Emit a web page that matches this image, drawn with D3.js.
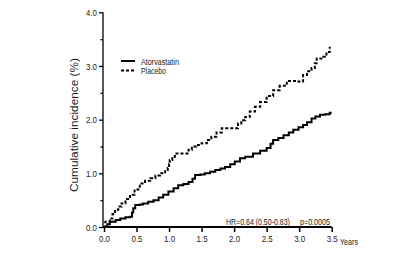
<!DOCTYPE html>
<html><head><meta charset="utf-8">
<script src="https://cdn.jsdelivr.net/npm/d3@7"></script>
<style>body{margin:0;background:#fff}svg{display:block}text{font-family:"Liberation Sans",Arial,sans-serif}</style>
</head><body><svg id="c" width="400" height="258"></svg>
<script>
const xTicks = [0,0.5,1.0,1.5,2.0,2.5,3.0,3.5];
const yTicks = [0,1.0,2.0,3.0,4.0];
const yMinor = [0.5,1.5,2.5,3.5];
const atorT = [0,0.05,0.09,0.18,0.25,0.33,0.40,0.43,0.45,0.48,0.55,0.60,0.68,0.76,0.84,0.91,0.99,1.07,1.14,1.22,1.30,1.36,1.40,1.48,1.55,1.63,1.71,1.79,1.86,1.94,2.01,2.09,2.17,2.29,2.40,2.50,2.56,2.60,2.68,2.76,2.84,2.91,2.99,3.06,3.12,3.19,3.25,3.32,3.40,3.47,3.5];
const atorV = [0,0.05,0.10,0.13,0.16,0.18,0.19,0.27,0.35,0.41,0.42,0.44,0.47,0.50,0.55,0.60,0.66,0.72,0.78,0.80,0.84,0.90,0.97,0.98,1.00,1.03,1.06,1.09,1.12,1.17,1.22,1.28,1.31,1.37,1.42,1.47,1.55,1.62,1.66,1.71,1.76,1.81,1.86,1.90,1.95,2.02,2.06,2.09,2.10,2.13,2.13];
const placT = [0,0.02,0.09,0.13,0.17,0.22,0.27,0.33,0.40,0.47,0.55,0.63,0.71,0.79,0.86,0.94,0.98,1.00,1.01,1.05,1.09,1.24,1.30,1.35,1.42,1.50,1.58,1.65,1.73,1.81,1.96,2.06,2.11,2.17,2.24,2.32,2.40,2.50,2.60,2.70,2.81,2.96,3.06,3.12,3.19,3.24,3.27,3.37,3.42,3.47];
const placV = [0,0.10,0.16,0.24,0.32,0.38,0.44,0.52,0.60,0.70,0.81,0.86,0.91,0.96,1.00,1.06,1.10,1.17,1.25,1.31,1.37,1.37,1.44,1.50,1.53,1.56,1.62,1.68,1.76,1.84,1.84,1.93,1.99,2.05,2.15,2.24,2.33,2.44,2.55,2.63,2.72,2.71,2.83,2.90,2.96,3.05,3.14,3.17,3.26,3.36];
const legendLabels = ["Atorvastatin","Placebo"];
const hrText = "HR=0.64 (0.50-0.83)";
const pText = "p=0.0005";
const yTitle = "Cumulative incidence (%)";
const xTitle = "Years";

const svg = d3.select("#c");
const x = d3.scaleLinear().domain([0,3.5]).range([104,331.7]);
const y = d3.scaleLinear().domain([0,4]).range([227,12.3]);
const fs = 9.5;
const col = "#1a1a1a";

// place a text at (tx,ty) and compress it horizontally to width w
function fitText(txt, tx, ty, w, size, anchor, rot){
  const t = svg.append("text").attr("font-size",size).attr("fill",col).text(txt);
  const L = t.node().getComputedTextLength();
  const s = w / L;
  let ax = 0;
  if (anchor === "middle") ax = -w/2;
  t.attr("x",0).attr("y",0);
  t.attr("transform","translate("+tx+","+ty+")"+(rot?" rotate("+rot+")":"")+" translate("+ax+",0) scale("+s+",1)");
  return t;
}

// y axis
const ya = svg.append("g").attr("transform","translate(103,0)")
  .call(d3.axisLeft(y).tickValues(yTicks).tickFormat(d3.format(".1f")).tickSize(4).tickPadding(2));
ya.select(".domain").attr("stroke","#000").attr("stroke-width",1.3).attr("d","M0,"+y(4)+"V"+y(0));
ya.selectAll(".tick line").attr("stroke-width",1.3);
ya.selectAll("text").attr("font-size",fs).attr("font-family","Liberation Sans, Arial").attr("fill",col)
  .attr("textLength",11).attr("lengthAdjust","spacingAndGlyphs");
const ym = svg.append("g").attr("transform","translate(103,0)")
  .call(d3.axisLeft(y).tickValues(yMinor).tickFormat("").tickSize(2.5));
ym.select(".domain").remove();
ym.selectAll(".tick line").attr("stroke-width",1.3);

// x axis
const xa = svg.append("g").attr("transform","translate(0,227)")
  .call(d3.axisBottom(x).tickValues(xTicks).tickFormat(d3.format(".1f")).tickSize(5).tickPadding(3));
xa.select(".domain").attr("stroke","#000").attr("stroke-width",2.2).attr("d","M103,0H"+x(3.5));
xa.selectAll(".tick line").attr("stroke-width",1.5);
xa.selectAll("text").attr("font-size",fs).attr("font-family","Liberation Sans, Arial").attr("fill",col)
  .attr("textLength",11).attr("lengthAdjust","spacingAndGlyphs");

fitText(xTitle, 340, 245, 18, fs);
fitText(yTitle, 78, 125, 134, 10, "middle", -90);

const line = d3.line().x(d=>x(d[0])).y(d=>y(d[1])).curve(d3.curveStepAfter);
const ator = atorT.map((t,i)=>[t,atorV[i]]);
const plac = placT.map((t,i)=>[t,placV[i]]);
svg.append("path").datum(ator).attr("d",line).attr("fill","none").attr("stroke","#000").attr("stroke-width",2);
svg.append("path").datum(plac).attr("d",line).attr("fill","none").attr("stroke","#000").attr("stroke-width",2).attr("stroke-dasharray","3,2");

// legend
const legendLen = [38,25];
legendLabels.forEach((lab,i)=>{
  const yy = 61 + i*9.5;
  svg.append("line").attr("x1",121).attr("x2",135).attr("y1",yy).attr("y2",yy)
    .attr("stroke","#000").attr("stroke-width",2).attr("stroke-dasharray", i===1?"3,2":null);
  fitText(lab, 141, yy+3.5, legendLen[i], 9);
});

fitText(hrText, 226, 225, 64, 9);
fitText(pText, 300, 225, 30, 9);
</script></body></html>
